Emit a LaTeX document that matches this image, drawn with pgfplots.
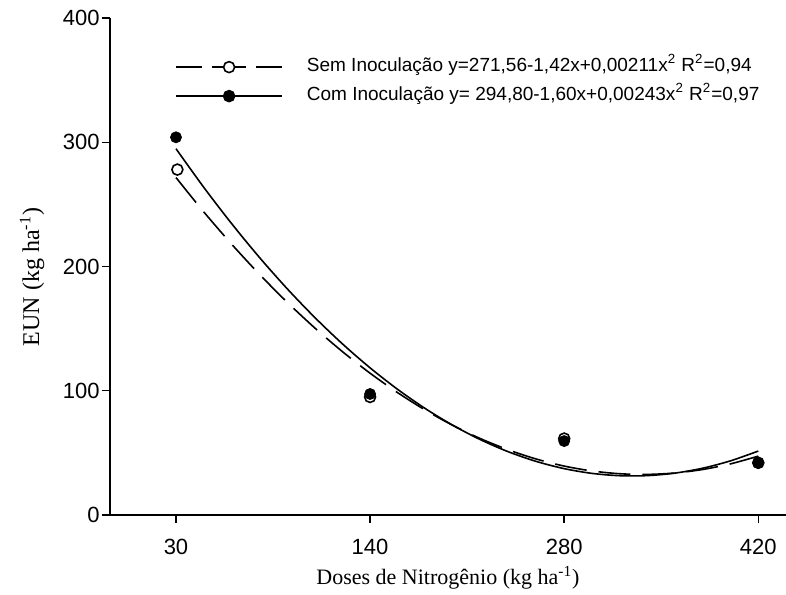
\documentclass[border=0pt]{standalone}
\usepackage{fontspec}
\setmainfont{Liberation Serif}
\setsansfont{Liberation Sans}
\usepackage{pgfplots}
\pgfplotsset{compat=1.18}

\begin{document}
\begin{tikzpicture}
\begin{axis}[
  name=ax,
  scale only axis,
  width=338pt, height=248.5pt,
  xmin=-47.6, xmax=440, ymin=0, ymax=400,
  axis lines=left,
  axis line style={-, line width=0.7pt},
  tick align=outside,
  tick style={black, line width=0.7pt},
  major tick length=4pt,
  xtick={0,140,280,420},
  xticklabels={30,140,\raisebox{3pt}{280},420},
  ytick={0,100,200,300,400},
  yticklabels={0,100,200,300,400},
  ticklabel style={font=\sffamily\fontsize{11}{13}\selectfont},
  xticklabel style={anchor=north, inner sep=0pt, yshift=-8pt},
  yticklabel style={anchor=east, inner sep=0pt, xshift=-1pt},
  xlabel={Doses de Nitrogênio (kg ha\textsuperscript{-1})},
  ylabel={EUN (kg ha\textsuperscript{-1})},
  xlabel style={font=\fontsize{11}{13}\selectfont, at={(axis description cs:0.5,-0.1268)}, anchor=center},
  ylabel style={font=\fontsize{12}{14}\selectfont, at={(axis description cs:-0.1154,0.479)}, anchor=center},
  clip=false,
  legend cell align=left,
  legend style={at={(axis description cs:0.096,0.872)}, anchor=west,
    draw=none, fill=none, inner sep=0pt, row sep=0pt,
    font=\sffamily\fontsize{9.5}{11}\selectfont,
    nodes={text height=7pt, text depth=2.5pt, inner ysep=2.5pt}},
  legend image code/.code={
    \draw[#1, mark repeat=2, mark phase=2] plot coordinates {(0pt,0pt) (26.5pt,0pt) (53pt,0pt)};
    \path (0pt,0pt) (63pt,0pt);
  },
]

% legenda: curva + simbolo
\addlegendimage{black, line width=0.8pt, dash pattern=on 13pt off 5pt on 17pt off 5pt on 13pt,
  mark=*, mark size=2.75pt, mark options={solid, fill=white, draw=black}}
\addlegendentry{Sem Inoculação y=271,56-1,42x+0,00211x\textsuperscript{2} R\textsuperscript{2}=0,94}
\addlegendimage{black, line width=0.8pt, mark=*, mark size=2.75pt, mark options={fill=black}}
\addlegendentry{Com Inoculação y= 294,80-1,60x+0,00243x\textsuperscript{2} R\textsuperscript{2}=0,97}

% curva ajustada - sem inoculacao (tracejada)
\addplot[black, line width=0.8pt, smooth, dash pattern=on 16pt off 6pt, forget plot] coordinates {
(0,271.56) (20,244.00) (40,218.14) (60,193.96) (80,171.46) (100,150.66)
(120,131.54) (140,114.12) (160,98.38) (180,84.32) (200,71.96) (220,61.28)
(240,52.30) (260,45.00) (280,39.38) (300,35.46) (320,33.22) (340,32.68)
(360,33.82) (380,36.64) (400,41.16) (420,47.36)
};

% curva ajustada - com inoculacao (continua)
\addplot[black, line width=0.8pt, smooth, forget plot] coordinates {
(0,294.80) (20,263.77) (40,234.69) (60,207.55) (80,182.35) (100,159.10)
(120,137.79) (140,118.43) (160,101.01) (180,85.53) (200,72.00) (220,60.41)
(240,50.77) (260,43.07) (280,37.31) (300,33.50) (320,31.63) (340,31.71)
(360,33.73) (380,37.69) (400,43.60) (420,51.45)
};

% pontos observados
\addplot[only marks, mark=*, mark size=2.75pt, mark options={fill=white, draw=black, line width=0.8pt}, forget plot]
  coordinates {(1,278) (140,95) (280,61.5) (420,42)};
\addplot[only marks, mark=*, mark size=2.75pt, mark options={fill=black, draw=black}, forget plot]
  coordinates {(0,304) (140,97.4) (280,59.5) (420,42)};

\end{axis}
\pgfresetboundingbox
\path[use as bounding box] ([xshift=-55pt,yshift=-39.5pt]ax.south west) rectangle ([yshift=9pt]ax.north east);
\end{tikzpicture}
\end{document}
